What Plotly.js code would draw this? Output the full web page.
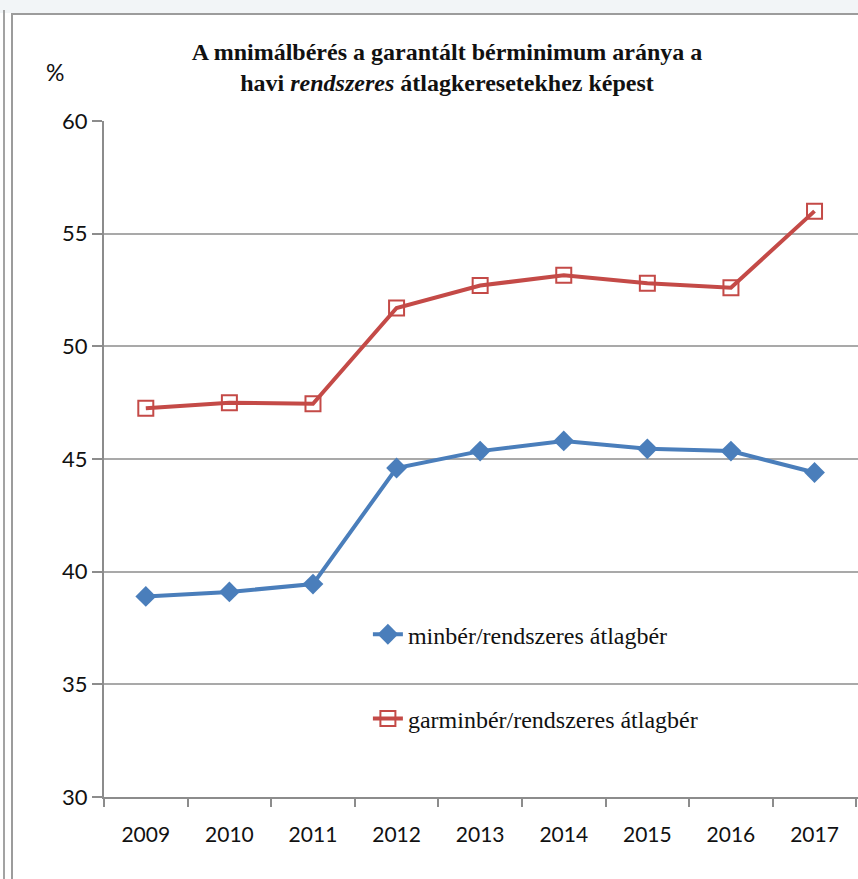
<!DOCTYPE html>
<html>
<head>
<meta charset="utf-8">
<script src="https://cdn.plot.ly/plotly-3.0.1.min.js"></script>
<style>
  html, body { margin: 0; padding: 0; background: #ffffff; }
  #wrap { position: relative; width: 858px; height: 879px; overflow: hidden; }
  #topband { position: absolute; left: 0; top: 0; width: 858px; height: 13px; background: #f2f5f7; }
  #outerline { position: absolute; left: 3px; top: 10px; width: 2px; height: 869px; background: #a3a3a3; }
  #frame { position: absolute; left: 11px; top: 13px; width: 860px; height: 880px; border-left: 2px solid #9c9c9c; border-top: 2px solid #9c9c9c; background: #ffffff; }
  #chart { position: absolute; left: 0; top: 0; width: 858px; height: 879px; }
</style>
</head>
<body>
<div id="wrap">
  <div id="topband"></div>
  <div id="outerline"></div>
  <div id="frame"></div>
  <div id="chart"></div>
</div>
<script>
const years = ['2009','2010','2011','2012','2013','2014','2015','2016','2017'];
const minber = [38.9, 39.1, 39.45, 44.6, 45.35, 45.8, 45.45, 45.35, 44.4];
const garminber = [47.25, 47.5, 47.45, 51.7, 52.7, 53.15, 52.8, 52.6, 56.0];
const seriesNames = ['minbér/rendszeres átlagbér', 'garminbér/rendszeres átlagbér'];
const yTicks = [30, 35, 40, 45, 50, 55, 60];

const traces = [
  {
    x: years, y: minber, name: seriesNames[0], type: 'scatter', mode: 'lines+markers',
    legendgroup: 'a',
    line: { color: '#4A7EBB', width: 4 },
    marker: { symbol: 'diamond', size: 16, color: '#4A7EBB' }
  },
  {
    x: years, y: garminber, name: seriesNames[1], type: 'scatter', mode: 'lines+markers',
    legendgroup: 'b',
    line: { color: '#C44A47', width: 4 },
    marker: { symbol: 'square-open', size: 15, color: '#C44A47', line: { width: 2, color: '#C44A47' } }
  }
];

const layout = {
  width: 858, height: 879,
  margin: { l: 104, r: 0, t: 121, b: 82 },
  paper_bgcolor: 'rgba(0,0,0,0)',
  plot_bgcolor: 'rgba(0,0,0,0)',
  showlegend: true,
  legend: {
    x: 0.35, y: 0.178, xanchor: 'left', yanchor: 'middle',
    bgcolor: 'rgba(0,0,0,0)',
    tracegroupgap: 50,
    font: { family: 'Liberation Serif, Times New Roman, serif', size: 24, color: '#111111' }
  },
  title: {
    text: '<b>A mnimálbérés a garantált bérminimum aránya a<br>havi <i>rendszeres</i> átlagkeresetekhez képest</b>',
    x: 0.521, xanchor: 'center', y: 0.932, yanchor: 'top',
    font: { family: 'Liberation Serif, Times New Roman, serif', size: 24, color: '#111111' }
  },
  xaxis: {
    type: 'category',
    range: [-0.5, 8.52],
    showline: true, linecolor: '#8c8c8c', linewidth: 2,
    ticks: 'outside', ticklen: 8, tickcolor: '#8c8c8c', tickwidth: 2,
    tickson: 'boundaries',
    ticklabelstandoff: 18,
    showgrid: false,
    tickfont: { family: 'Lato, sans-serif', size: 21, color: '#111111' },
    fixedrange: true
  },
  yaxis: {
    range: [30, 60],
    tickvals: yTicks,
    showline: true, linecolor: '#8c8c8c', linewidth: 2,
    ticks: 'outside', ticklen: 10, tickcolor: '#8c8c8c', tickwidth: 2,
    showgrid: true, gridcolor: '#a9a9a9', gridwidth: 2,
    zeroline: false,
    tickfont: { family: 'Lato, sans-serif', size: 22, color: '#111111' },
    fixedrange: true
  },
  annotations: [
    {
      text: '%', xref: 'paper', yref: 'paper',
      x: (55 - 104) / 754, y: (797 - 72) / 676, xanchor: 'center', yanchor: 'middle',
      showarrow: false,
      font: { family: 'Lato, sans-serif', size: 23, color: '#111111' }
    }
  ]
};

Plotly.newPlot('chart', traces, layout, { staticPlot: true, displayModeBar: false });
</script>
</body>
</html>
